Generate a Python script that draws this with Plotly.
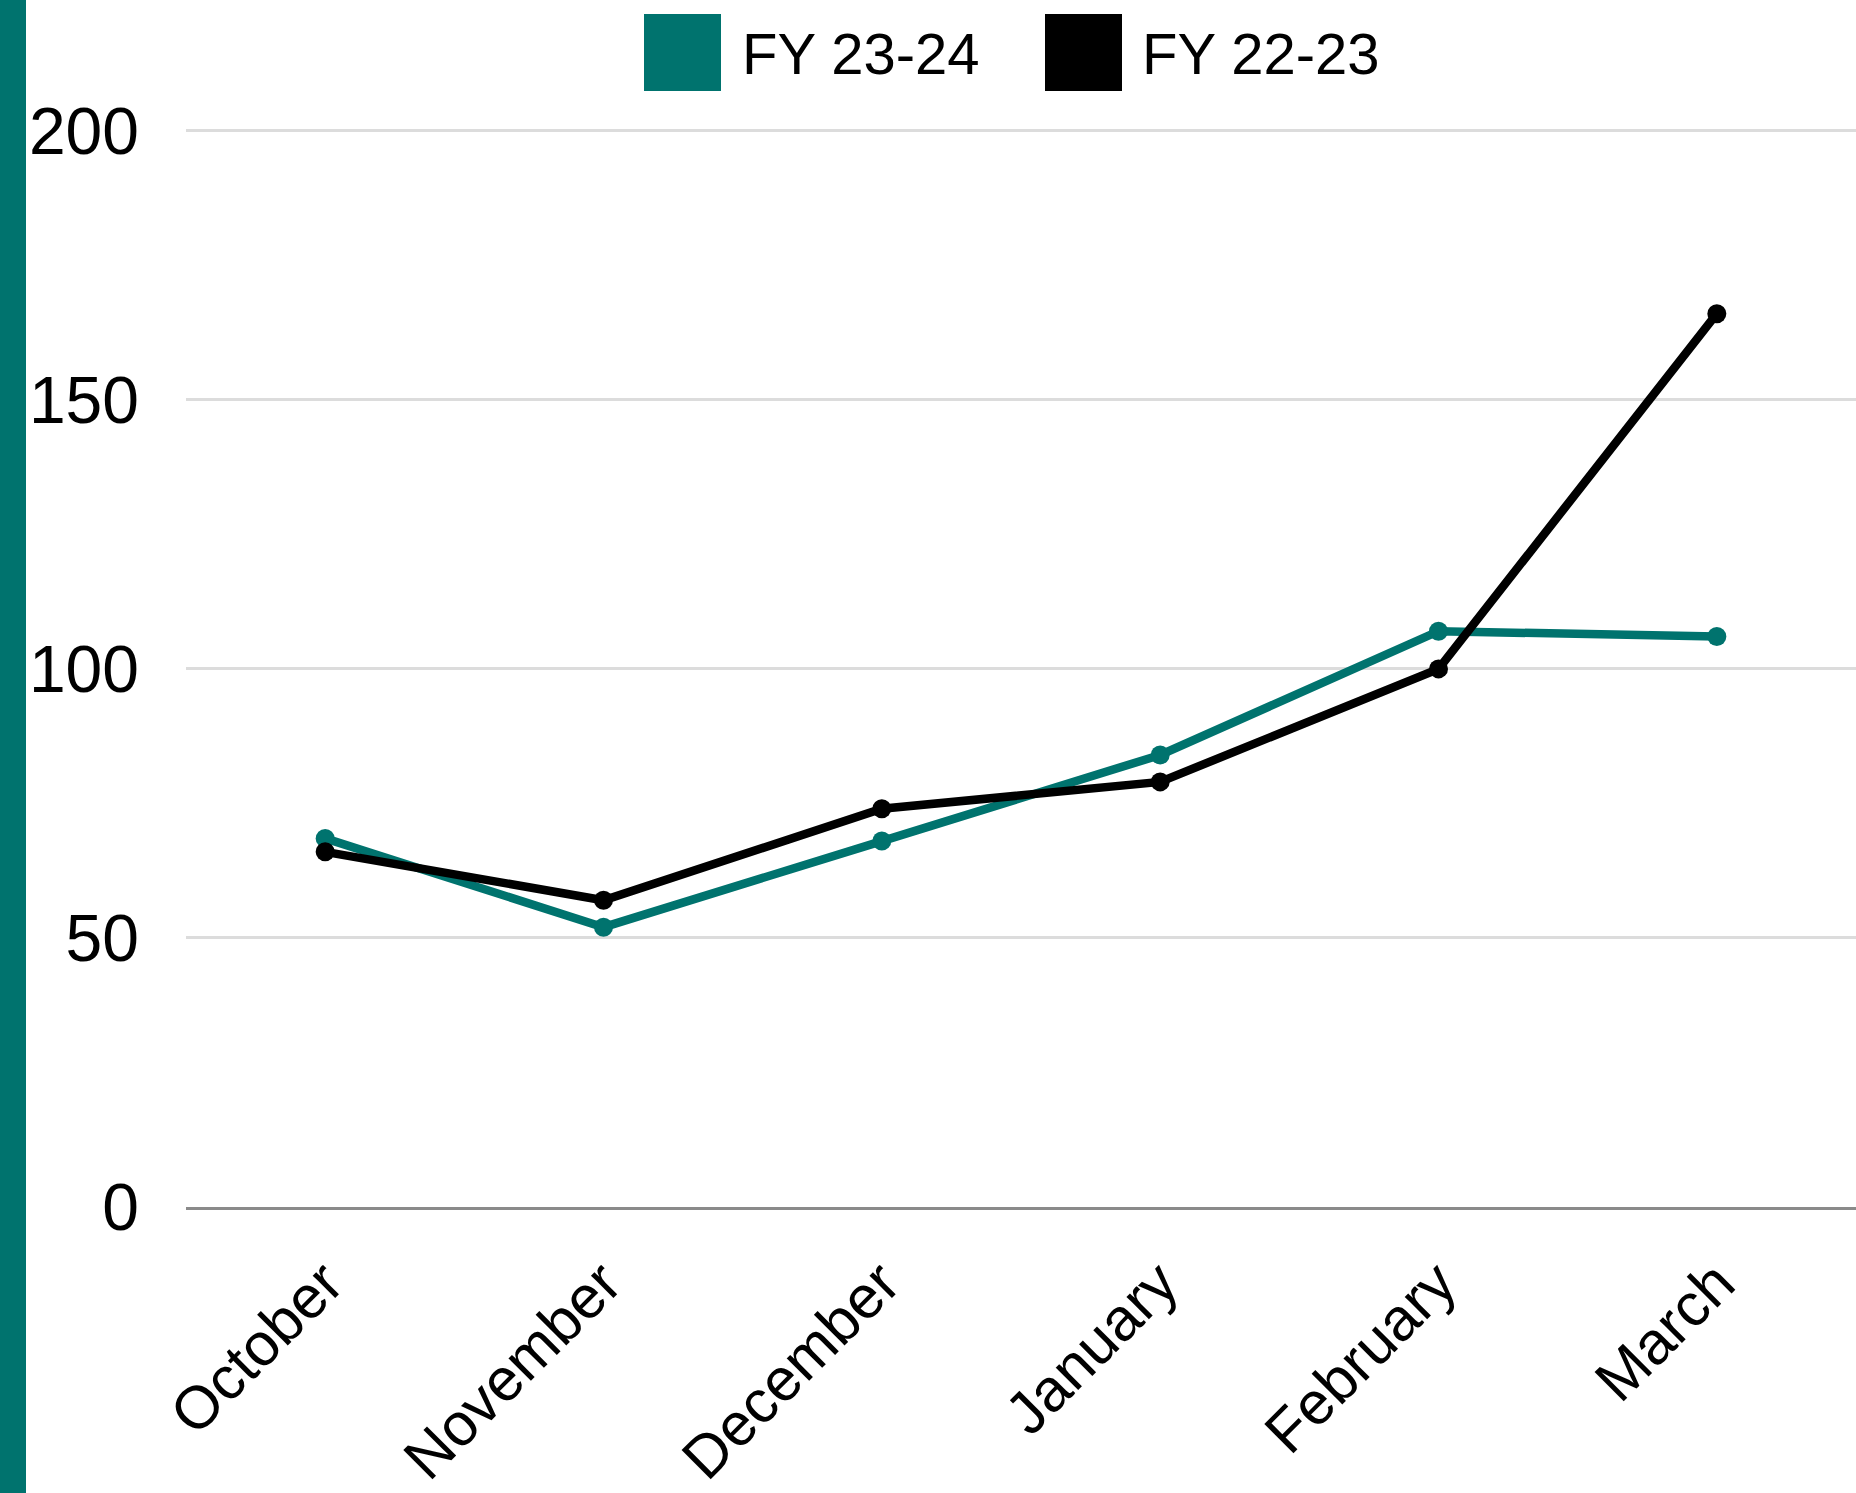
import plotly.graph_objects as go

# ---- data ----
months = ["October", "November", "December", "January", "February", "March"]
fy_23_24 = [68.5, 52, 68, 84, 107, 106]
fy_22_23 = [66, 57, 74, 79, 100, 166]
series_names = ["FY 23-24", "FY 22-23"]
y_ticks = [0, 50, 100, 150, 200]

TEAL = "#00736E"
BLACK = "#000000"
FONT = "Liberation Sans, Arial, sans-serif"

W, H = 1856, 1493
Y0_PX, Y200_PX = 1207.0, 130.7
YMAX = 202
unit = (Y0_PX - Y200_PX) / 200
L, R, B = 186, 0, H - Y0_PX
T = Y0_PX - YMAX * unit
PW, PH = W - L - R, H - T - B


def px(xp):
    return (xp - L) / PW


def py(yp):
    return (H - B - yp) / PH


fig = go.Figure()
fig.add_trace(go.Scatter(x=months, y=fy_23_24, name=series_names[0], mode="lines+markers",
                         line=dict(color=TEAL, width=8.5), marker=dict(color=TEAL, size=19)))
fig.add_trace(go.Scatter(x=months, y=fy_22_23, name=series_names[1], mode="lines+markers",
                         line=dict(color=BLACK, width=8.5), marker=dict(color=BLACK, size=19)))

shapes = [
    dict(type="rect", xref="paper", yref="paper", x0=px(0), x1=px(26), y0=py(H), y1=py(0),
         fillcolor=TEAL, line=dict(width=0), layer="above"),
    dict(type="rect", xref="paper", yref="paper", x0=px(644), x1=px(721), y0=py(91), y1=py(14),
         fillcolor=TEAL, line=dict(width=0)),
    dict(type="rect", xref="paper", yref="paper", x0=px(1045), x1=px(1122), y0=py(91), y1=py(14),
         fillcolor=BLACK, line=dict(width=0)),
]
annotations = [
    dict(text=series_names[0], xref="paper", yref="paper", x=px(740), y=py(53), xanchor="left",
         yanchor="middle", showarrow=False, font=dict(family=FONT, size=58, color="black")),
    dict(text=series_names[1], xref="paper", yref="paper", x=px(1140), y=py(53), xanchor="left",
         yanchor="middle", showarrow=False, font=dict(family=FONT, size=58, color="black")),
]

fig.update_layout(
    width=W, height=H,
    margin=dict(l=L, r=R, t=T, b=B, pad=0),
    plot_bgcolor="white", paper_bgcolor="white",
    showlegend=False,
    shapes=shapes, annotations=annotations,
    xaxis=dict(type="category", range=[-0.5, 5.5], tickangle=-45, showgrid=False,
               showline=True, linecolor="#8a8a8a", linewidth=2.5, ticks="", automargin=False,
               ticklabelstandoff=14,
               tickfont=dict(family=FONT, size=60, color="black")),
    yaxis=dict(range=[0, YMAX], tickvals=y_ticks, ticktext=[str(v) for v in y_ticks],
               showgrid=True, gridcolor="#dcdcdc", gridwidth=2.5, zeroline=False, showline=False,
               ticks="", ticklabelstandoff=46, automargin=False,
               tickfont=dict(family=FONT, size=66, color="black")),
)

fig.write_html("out.html", config={"displayModeBar": False},
               post_script="document.body.style.margin='0';")
